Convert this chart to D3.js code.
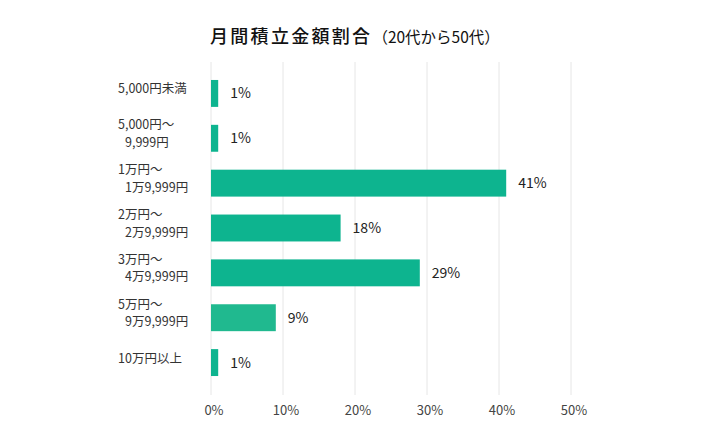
<!DOCTYPE html>
<html>
<head>
<meta charset="utf-8">
<script src="https://cdn.jsdelivr.net/npm/d3@7"></script>
<style>
  body { margin: 0; background: #fff; }
  svg { display: block; font-family: "Noto Sans CJK JP", "Noto Sans", sans-serif; }
</style>
</head>
<body>
<div id="chart"></div>
<script>
// data
const categories = [
  ["5,000円未満"],
  ["5,000円～", "9,999円"],
  ["1万円～", "1万9,999円"],
  ["2万円～", "2万9,999円"],
  ["3万円～", "4万9,999円"],
  ["5万円～", "9万9,999円"],
  ["10万円以上"]
];
const values = [1, 1, 41, 18, 29, 9, 1];
const barColors = ["#0db48f", "#0db48f", "#0db48f", "#0db48f", "#0db48f", "#20b98f", "#0db48f"];
const ticks = [0, 10, 20, 30, 40, 50];

const width = 710, height = 448;
const margin = {top: 62, left: 211, right: 139, bottom: 53};

const svg = d3.select("#chart").append("svg")
  .attr("width", width)
  .attr("height", height);

const x = d3.scaleLinear().domain([0, 50]).range([margin.left, width - margin.right]);
const y = d3.scaleBand()
  .domain(d3.range(categories.length))
  .range([71, 385])
  .paddingInner(0.4)
  .paddingOuter(0.2);

// title
const title = svg.append("text")
  .attr("x", 210)
  .attr("y", 43)
  .attr("fill", "#111");
title.append("tspan")
  .attr("font-size", 18)
  .attr("font-weight", 500)
  .attr("letter-spacing", 2.3)
  .text("月間積立金額割合");
title.append("tspan")
  .attr("font-size", 15.5)
  .text("（20代から50代）");

// grid
svg.append("g")
  .selectAll("line")
  .data(ticks)
  .join("line")
  .attr("x1", d => x(d)).attr("x2", d => x(d))
  .attr("y1", margin.top).attr("y2", height - margin.bottom)
  .attr("stroke", "#e6e6e6")
  .attr("stroke-width", 1);

// x tick labels
svg.append("g")
  .selectAll("text")
  .data(ticks)
  .join("text")
  .attr("x", d => x(d) + 3)
  .attr("y", 415)
  .attr("text-anchor", "middle")
  .attr("font-size", 13)
  .attr("fill", "#444")
  .text(d => d + "%");

// bars
svg.append("g")
  .selectAll("rect")
  .data(values)
  .join("rect")
  .attr("x", x(0))
  .attr("y", (d, i) => y(i))
  .attr("width", d => x(d) - x(0))
  .attr("height", y.bandwidth())
  .attr("fill", (d, i) => barColors[i]);

// value labels
svg.append("g")
  .selectAll("text")
  .data(values)
  .join("text")
  .attr("x", d => x(d) + 12)
  .attr("y", (d, i) => y(i) + y.bandwidth() / 2)
  .attr("dy", "0.36em")
  .attr("font-size", 14)
  .attr("fill", "#222")
  .text(d => d + "%");

// category labels
const cat = svg.append("g")
  .selectAll("text")
  .data(categories)
  .join("text")
  .attr("font-size", 12.5)
  .attr("fill", "#333")
  .attr("y", (d, i) => y(i) + y.bandwidth() / 2 + (d.length > 1 ? -9 : 0))
  .attr("dy", "0.35em");
cat.selectAll("tspan")
  .data(d => d)
  .join("tspan")
  .attr("x", (d, j) => j === 0 ? 118 : 125)
  .attr("dy", (d, j) => j === 0 ? 0 : 17.5)
  .text(d => d);
</script>
</body>
</html>
